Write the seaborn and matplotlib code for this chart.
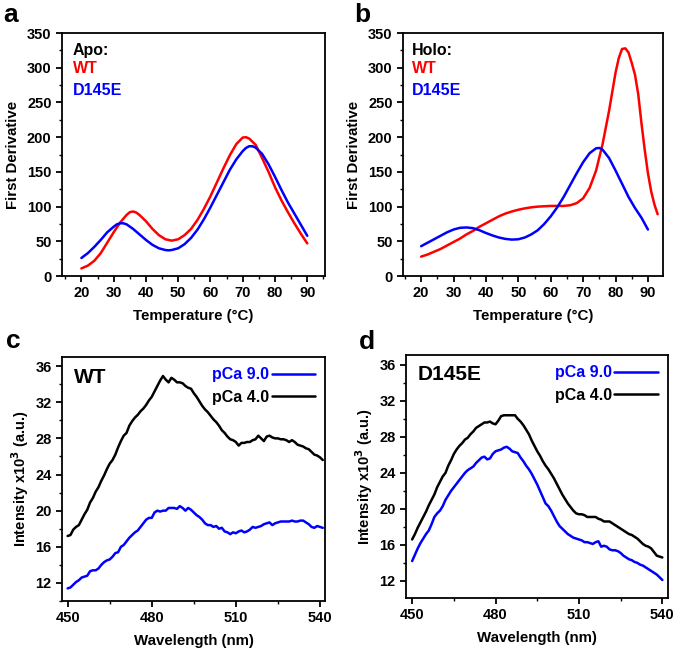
import matplotlib
matplotlib.use("Agg")
import matplotlib.pyplot as plt
from matplotlib.ticker import MultipleLocator
import seaborn as sns
import pandas as pd

# ---------------- data ----------------
temp_a_wt = [20, 22, 24, 26, 28, 30, 32, 34, 35, 36, 37, 38, 40, 42, 44, 46, 48, 50, 52, 54, 56, 58,
             60, 62, 64, 66, 68, 70, 71, 72, 74, 76, 78, 80, 82, 84, 86, 88, 90]
apo_wt = [11, 15, 22, 33, 48, 63, 77, 88, 92, 93, 91.5, 88, 79, 68, 59, 53, 51, 53, 59, 68, 81, 97,
          115, 135, 155, 174, 190, 199.5, 200, 198, 189, 170, 150, 128, 109, 92, 76, 61, 47]
temp_a_mut = [20, 22, 24, 26, 28, 30, 31, 32, 33, 34, 36, 38, 40, 42, 44, 46, 47, 48, 50, 52, 54, 56,
              58, 60, 62, 64, 66, 68, 70, 71, 72, 73, 74, 76, 78, 80, 82, 84, 86, 88, 90]
apo_d145e = [26, 33, 42, 52, 63, 71, 74.5, 76, 76, 74.5, 68, 60, 52, 45, 40, 37.5, 37, 37.5, 40, 46,
             55, 67, 82, 99, 117, 135, 153, 168, 180, 184.5, 187, 187, 185, 176, 161, 143, 124, 106,
             90, 74, 58]

temp_b_wt = [20, 22, 24, 26, 28, 30, 32, 34, 36, 38, 40, 42, 44, 46, 48, 50, 52, 54, 56, 58, 60, 62,
             64, 66, 68, 70, 72, 74, 76, 78, 80, 81, 82, 83, 84, 85, 86, 87, 88, 89, 90, 91, 92, 93]
holo_wt = [28, 31, 35, 39, 44, 49, 54, 60, 65, 71, 76, 81, 86, 90, 93, 95.5, 97.5, 99, 100, 100.5,
           101, 101, 101, 102, 105, 112, 127, 152, 190, 238, 293, 314, 327, 328, 322, 307, 290, 262,
           220, 182, 148, 122, 103, 89]
temp_b_mut = [20, 22, 24, 26, 28, 30, 32, 34, 36, 38, 40, 42, 44, 46, 48, 50, 52, 54, 56, 58, 60, 62,
              64, 66, 68, 70, 72, 74, 75, 76, 78, 80, 82, 84, 86, 88, 90]
holo_d145e = [43, 48, 53, 58, 63, 67, 69.5, 70, 69, 66, 62, 58.5, 55.5, 53.5, 52.5, 53, 55.5, 60, 66,
              75, 86, 99, 114, 131, 148, 164, 177, 184, 184.5, 182, 170, 152, 133, 114, 98, 84, 67]

wl_c = list(range(450, 542))
wt_pca4 = [17.2, 17.3, 17.9, 18.2, 18.4, 19.0, 19.6, 20.1, 20.9, 21.4, 22.1, 22.6, 23.3, 23.9, 24.6,
           25.2, 25.6, 26.2, 27.0, 27.7, 28.3, 28.6, 29.4, 29.9, 30.3, 30.6, 31.0, 31.3, 31.7, 32.2,
           32.6, 33.2, 33.8, 34.4, 34.9, 34.5, 34.2, 34.7, 34.5, 34.2, 34.2, 34.1, 33.8, 33.6, 33.5,
           33.0, 32.6, 32.1, 31.6, 31.2, 30.9, 30.5, 30.1, 29.8, 29.4, 28.9, 28.6, 28.2, 27.9, 27.8,
           27.6, 27.2, 27.5, 27.5, 27.6, 27.6, 27.8, 27.9, 28.3, 28.0, 27.7, 28.2, 28.3, 28.1, 28.0,
           28.0, 27.9, 27.9, 27.8, 27.6, 27.8, 27.6, 27.3, 27.2, 27.1, 26.9, 26.8, 26.5, 26.2, 26.1,
           25.9, 25.6]
wt_pca9 = [11.4, 11.5, 11.8, 12.1, 12.3, 12.6, 12.7, 12.8, 13.3, 13.4, 13.4, 13.6, 14.0, 14.3, 14.5,
           14.6, 14.9, 15.3, 15.4, 16.0, 16.2, 16.6, 17.0, 17.3, 17.6, 17.8, 18.2, 18.6, 19.0, 19.2,
           19.2, 19.8, 20.0, 19.9, 20.0, 20.0, 20.3, 20.3, 20.3, 20.2, 20.5, 20.3, 20.0, 20.3, 20.1,
           19.8, 19.5, 19.3, 19.0, 18.6, 18.4, 18.4, 18.2, 18.3, 18.0, 18.1, 17.7, 17.6, 17.4, 17.6,
           17.5, 17.7, 17.8, 17.6, 17.7, 17.9, 18.2, 18.1, 18.2, 18.3, 18.5, 18.6, 18.7, 18.4, 18.6,
           18.7, 18.8, 18.8, 18.8, 18.8, 18.9, 18.8, 18.8, 18.9, 18.9, 18.7, 18.5, 18.2, 18.1, 18.3,
           18.2, 18.1]

wl_d = list(range(450, 541))
mut_pca4 = [16.6, 17.2, 17.9, 18.5, 19.1, 19.7, 20.4, 21.0, 21.6, 22.4, 23.0, 23.6, 24.0, 24.8, 25.4,
            26.1, 26.6, 27.0, 27.3, 27.7, 27.9, 28.3, 28.6, 29.0, 29.2, 29.4, 29.6, 29.6, 29.7, 29.5,
            29.4, 29.8, 30.3, 30.4, 30.4, 30.4, 30.4, 30.4, 30.0, 29.7, 29.3, 28.8, 28.3, 27.6, 27.0,
            26.4, 25.9, 25.3, 24.8, 24.4, 23.9, 23.4, 22.8, 22.2, 21.6, 21.1, 20.6, 20.2, 19.8, 19.5,
            19.4, 19.4, 19.3, 19.1, 19.1, 19.1, 19.1, 18.9, 18.8, 18.6, 18.6, 18.6, 18.4, 18.2, 18.0,
            17.8, 17.6, 17.4, 17.2, 17.1, 16.9, 16.7, 16.4, 16.1, 15.9, 15.8, 15.6, 15.2, 14.8, 14.7,
            14.6]
mut_pca9 = [14.2, 14.9, 15.6, 16.2, 16.7, 17.2, 17.6, 18.3, 19.1, 19.5, 19.8, 20.3, 21.0, 21.5, 22.0,
            22.4, 22.8, 23.2, 23.6, 24.0, 24.3, 24.5, 24.7, 25.1, 25.4, 25.7, 25.8, 25.5, 25.6, 26.1,
            26.4, 26.5, 26.6, 26.8, 26.9, 26.7, 26.4, 26.3, 26.2, 25.7, 25.3, 24.8, 24.4, 23.9, 23.3,
            22.7, 22.0, 21.3, 20.6, 20.3, 19.8, 19.2, 18.6, 18.1, 17.8, 17.5, 17.2, 17.0, 16.8, 16.7,
            16.6, 16.5, 16.3, 16.3, 16.2, 16.1, 16.3, 16.4, 15.8, 15.9, 15.8, 15.5, 15.4, 15.4, 15.3,
            15.1, 14.8, 14.6, 14.4, 14.3, 14.1, 14.0, 13.8, 13.7, 13.5, 13.3, 13.1, 12.9, 12.7, 12.4,
            12.1]

RED = "#ff0000"
BLUE = "#0000ff"
BLACK = "#000000"

# ---------------- style ----------------
sns.set_style("ticks")
plt.rcParams["font.family"] = ["Liberation Sans", "DejaVu Sans"]
plt.rcParams["font.weight"] = "bold"
plt.rcParams["axes.labelweight"] = "bold"
plt.rcParams["text.color"] = "black"
plt.rcParams["axes.labelcolor"] = "black"
plt.rcParams["xtick.color"] = "black"
plt.rcParams["ytick.color"] = "black"
plt.rcParams["xtick.labelcolor"] = "black"
plt.rcParams["ytick.labelcolor"] = "black"
plt.rcParams["axes.edgecolor"] = "black"
plt.rcParams["axes.linewidth"] = 1.3
plt.rcParams["xtick.major.width"] = 1.3
plt.rcParams["ytick.major.width"] = 1.3
plt.rcParams["xtick.minor.width"] = 1.0
plt.rcParams["ytick.minor.width"] = 1.0
plt.rcParams["xtick.major.size"] = 4
plt.rcParams["ytick.major.size"] = 4
plt.rcParams["xtick.minor.size"] = 2.5
plt.rcParams["ytick.minor.size"] = 2.5
plt.rcParams["mathtext.default"] = "bf"

fig = plt.figure(figsize=(6.75, 6.48), dpi=100)
ax_a = fig.add_axes([0.0919, 0.574, 0.3896, 0.375])
ax_b = fig.add_axes([0.597, 0.574, 0.385, 0.375])
ax_c = fig.add_axes([0.0919, 0.0725, 0.3896, 0.3765])
ax_d = fig.add_axes([0.6015, 0.0772, 0.388, 0.375])

LW = 1.8
TICKFS = 10.5
LABFS = 10.8
ANNFS = 11.5


def style_axes(ax):
    for s in ax.spines.values():
        s.set_visible(True)
        s.set_linewidth(1.3)
        s.set_color("black")
    ax.tick_params(which="both", direction="out", top=False, right=False, labelsize=TICKFS,
                   colors="black")
    for lab in ax.get_xticklabels() + ax.get_yticklabels():
        lab.set_fontweight("bold")


def two_lines(ax, x1, y1, x2, y2, lab1, lab2, c1, c2):
    df = pd.concat([
        pd.DataFrame({"x": x1, "y": y1, "s": lab1}),
        pd.DataFrame({"x": x2, "y": y2, "s": lab2}),
    ], ignore_index=True)
    sns.lineplot(data=df, x="x", y="y", hue="s", palette={lab1: c1, lab2: c2},
                 hue_order=[lab1, lab2], linewidth=LW, legend=False, ax=ax,
                 estimator=None, sort=False)


def dsc_axes(ax, xwt, ywt, xmut, ymut, state, xlim, xoff):
    two_lines(ax, xwt, ywt, xmut, ymut, "WT", "D145E", RED, BLUE)
    ax.set_xlim(*xlim)
    ax.set_ylim(0, 350)
    ax.xaxis.set_major_locator(MultipleLocator(10))
    ax.xaxis.set_minor_locator(MultipleLocator(5))
    ax.yaxis.set_major_locator(MultipleLocator(50))
    ax.yaxis.set_minor_locator(MultipleLocator(25))
    ax.set_xlabel("Temperature (°C)", fontsize=LABFS, fontweight="bold", labelpad=6)
    ax.set_ylabel("First Derivative", fontsize=LABFS, fontweight="bold", labelpad=5)
    style_axes(ax)
    for txt, col, yy in [(state, BLACK, 0.93), ("WT", RED, 0.856), ("D145E", BLUE, 0.765)]:
        ax.text(xoff, yy, txt, transform=ax.transAxes, color=col, fontsize=ANNFS,
                fontweight="bold", va="center", ha="left")


dsc_axes(ax_a, temp_a_wt, apo_wt, temp_a_mut, apo_d145e, "Apo:", (14, 95.5), 0.042)
dsc_axes(ax_b, temp_b_wt, holo_wt, temp_b_mut, holo_d145e, "Holo:", (14.4, 94.6), 0.035)


def spectra_axes(ax, x, y9, y4, title, xlim, ylim):
    two_lines(ax, x, y9, x, y4, "pCa 9.0", "pCa 4.0", BLUE, BLACK)
    ax.set_xlim(*xlim)
    ax.set_ylim(*ylim)
    ax.xaxis.set_major_locator(MultipleLocator(30))
    ax.xaxis.set_minor_locator(MultipleLocator(15))
    ax.yaxis.set_major_locator(MultipleLocator(4))
    ax.yaxis.set_minor_locator(MultipleLocator(2))
    ax.set_xlabel("Wavelength (nm)", fontsize=LABFS, fontweight="bold", labelpad=6)
    ax.set_ylabel("Intensity x10$^{3}$ (a.u.)", fontsize=10.5, fontweight="bold", labelpad=3)
    style_axes(ax)
    ax.text(0.045, 0.918, title, transform=ax.transAxes, fontsize=15, fontweight="bold",
            va="center", ha="left")
    handles = ax.get_lines()[:2]
    ax.legend(handles, ["pCa 9.0", "pCa 4.0"], loc="upper right", frameon=False,
              markerfirst=False, labelcolor=[BLUE, BLACK],
              handlelength=2.7, handletextpad=0.15, borderaxespad=0.25,
              labelspacing=0.45, prop={"weight": "bold", "size": 11.5})


spectra_axes(ax_c, wl_c, wt_pca9, wt_pca4, "WT", (448, 541.8), (10, 37))
spectra_axes(ax_d, wl_d, mut_pca9, mut_pca4, "D145E", (447.8, 542), (10.1, 37.1))

# panel letters
fig.text(3 / 675, 1 - 22 / 648, "a", fontsize=19, fontweight="bold", ha="left", va="baseline")
fig.text(354 / 675, 1 - 22 / 648, "b", fontsize=19, fontweight="bold", ha="left", va="baseline")
fig.text(6 / 675, 1 - 348 / 648, "c", fontsize=19, fontweight="bold", ha="left", va="baseline")
fig.text(359 / 675, 1 - 349 / 648, "d", fontsize=19, fontweight="bold", ha="left", va="baseline")

fig.savefig("out.png", dpi=100, facecolor="white")
